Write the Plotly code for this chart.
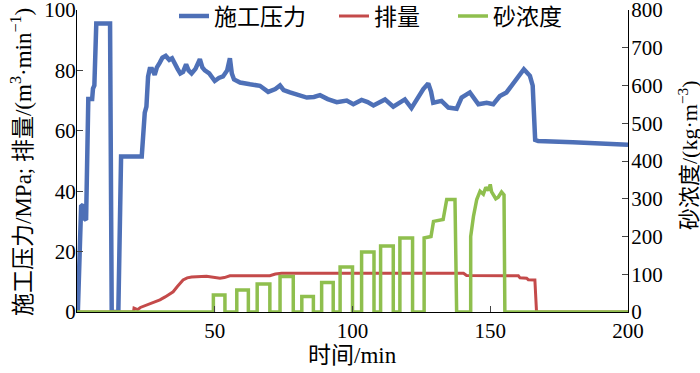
import plotly.graph_objects as go

# 施工压力 (MPa), left axis
p_t = [0.3, 0.8, 1.5, 2.2, 2.6, 3.3, 3.7, 4.1, 5.5, 5.8, 6.3, 7.0, 12.0, 12.6, 15.0, 16.0, 23.5, 24.2, 24.6, 25.2,
       25.8, 26.4, 27.2, 28.2, 29.0, 30.0, 31.0, 32.2, 33.5, 34.5, 35.5, 36.5, 37.5, 38.5, 39.6, 40.5, 41.6, 43.0,
       44.6, 45.5, 46.4, 48.0, 50.0, 51.5, 53.0, 54.5, 55.5, 56.2, 57.0, 59.2, 62.8, 66.4, 69.4, 72.0, 73.7, 75.0,
       77.3, 80.0, 83.4, 86.0, 88.2, 91.0, 94.3, 97.9, 100.3, 103.3, 105.5, 107.6, 111.8, 114.8, 117.2, 119.0,
       121.4, 123.9, 125.7, 127.5, 128.5, 129.3, 132.3, 134.8, 137.8, 139.6, 142.6, 145.7, 148.7, 151.1, 153.5,
       155.9, 158.4, 160.2, 162.2, 164.4, 165.4, 166.3, 167.4, 180.0, 200.0]
p_v = [0, 20, 35, 35.5, 31, 30.5, 50, 70.5, 70.5, 74, 75, 95.5, 95.5, 0, 0, 51.5, 51.5, 60, 66, 68,
       78, 80.5, 80.5, 78.5, 81, 82.5, 84.2, 84.8, 83.5, 84, 82, 80.5, 79, 79.5, 82, 80, 79, 80.5,
       83.7, 81, 80, 79, 76.5, 77.5, 78, 80, 84, 79, 77, 76, 75.4, 74.9, 72.9, 73.8, 75, 73.5,
       72.7, 72, 71, 71.2, 71.8, 70.5, 69.5, 70, 68.8, 70.2, 69.5, 68.4, 70.4, 68, 69.3, 70.4,
       67.5, 71.5, 73.8, 75.7, 73, 69.3, 69.9, 67.7, 67.3, 71, 72.7, 68.8, 69.3, 68.8, 71.5,
       72.7, 76, 78.2, 80.4, 78.2, 75, 57, 56.6, 56.2, 55.4]

# 排量 (m3/min), left axis
q_t = [0, 20.5, 20.7, 22, 23, 25.3, 27, 28.5, 30.1, 32, 34.9, 36.5, 38.5, 40, 41.6, 47, 50, 51.9, 53.5, 55.5,
       70, 72, 74.3, 140.3, 141.4, 160.2, 160.8, 163.2, 163.8, 166.2, 166.8, 200]
q_v = [0, 0, 1.3, 0.8, 1.5, 2.3, 3, 3.4, 4, 5, 6.7, 8.5, 10.6, 11.3, 11.6, 11.8, 11.5, 11.2, 11.4, 12,
       12, 12.6, 12.8, 12.8, 12.1, 12.0, 11.3, 11.2, 10.7, 10.6, 0, 0]

# 砂浓度 (kg/m3), right axis
s_t = [0, 49.5, 49.5, 53.7, 53.7, 58, 58, 62.2, 62.2, 65.4, 65.4, 70, 70, 73.7, 73.7, 78.5, 78.5,
       81.6, 81.6, 85.8, 85.8, 88.8, 88.8, 93, 93, 95.5, 95.5, 100, 100, 103.3, 103.3, 107.8, 107.8,
       110.2, 110.2, 114.8, 114.8, 117.2, 117.2, 121.8, 121.8, 126, 126, 128.5, 129.4, 132.9, 134.2,
       137.2, 137.8, 142.9, 142.9, 143.9, 145.1, 146.3, 147.5, 148.4, 149.3, 150.0, 150.5, 151.1,
       152.0, 152.9, 154.1, 155.0, 155.3, 200]
s_v = [0, 0, 45, 45, 0, 0, 58, 58, 0, 0, 74, 74, 0, 0, 94, 94, 0,
       0, 41, 41, 0, 0, 78, 78, 0, 0, 119, 119, 0, 0, 159, 159, 0,
       0, 175, 175, 0, 0, 196, 196, 0, 0, 196, 200, 240, 245, 298,
       298, 0, 0, 200, 253, 298, 320, 312, 330, 322, 338, 318, 311,
       300, 304, 318, 310, 0, 0]

x_ticks = [50, 100, 150, 200]

FONT = "Liberation Serif, Noto Sans CJK SC, serif"

fig = go.Figure()
fig.add_trace(go.Scatter(x=p_t, y=p_v, mode="lines", name="施工压力", legend="legend",
                         line=dict(color="#4e70b7", width=4.5)))
fig.add_trace(go.Scatter(x=q_t, y=q_v, mode="lines", name="排量", legend="legend2",
                         line=dict(color="#c44a4a", width=3)))
fig.add_trace(go.Scatter(x=s_t, y=s_v, mode="lines", name="砂浓度", yaxis="y2", legend="legend3",
                         line=dict(color="#8fbf4e", width=3.5)))

L, R, T, B = 77, 72, 10, 61
W, H = 700, 373
pw, ph = W - L - R, H - T - B

def px(x):
    return (x - L) / pw

def py(y):
    return (H - B - y) / ph

def leg(xpix):
    return dict(orientation="h", x=px(xpix), y=py(16), xanchor="left", yanchor="middle",
                bgcolor="rgba(0,0,0,0)", font=dict(family=FONT, size=23), itemwidth=30)

axis_common = dict(ticks="inside", ticklen=6, showline=True, linecolor="black", linewidth=1,
                   showgrid=False, zeroline=False, ticklabeloverflow="allow",
                   tickfont=dict(family=FONT, size=21))

fig.update_layout(
    width=W, height=H,
    margin=dict(l=L, r=R, t=T, b=B, pad=0, autoexpand=False),
    paper_bgcolor="white", plot_bgcolor="white",
    font=dict(family=FONT, size=21, color="black"),
    showlegend=True,
    legend=leg(174), legend2=leg(334), legend3=leg(453),
    xaxis=dict(range=[0, 200], tickvals=x_ticks, **axis_common),
    yaxis=dict(range=[0, 100], dtick=20, ticklabelstandoff=-4, **axis_common),
    yaxis2=dict(range=[0, 800], dtick=100, overlaying="y", side="right", ticklabelstandoff=-2,
                **axis_common),
    annotations=[
        dict(text="施工压力/MPa; 排量/(m<sup>3</sup>·min<sup>−1</sup>)", xref="paper", yref="paper",
             x=px(21), y=py(162), xanchor="center", yanchor="middle", textangle=-90,
             showarrow=False, font=dict(family=FONT, size=23)),
        dict(text="砂浓度/(kg·m<sup>−3</sup>)", xref="paper", yref="paper",
             x=px(688), y=py(155), xanchor="center", yanchor="middle", textangle=-90,
             showarrow=False, font=dict(family=FONT, size=22)),
        dict(text="时间/min", xref="paper", yref="paper",
             x=px(352), y=py(355), xanchor="center", yanchor="middle",
             showarrow=False, font=dict(family=FONT, size=23)),
    ],
)

fig.write_html("out.html", post_script="document.body.style.margin='0';",
               config={"displayModeBar": False})
